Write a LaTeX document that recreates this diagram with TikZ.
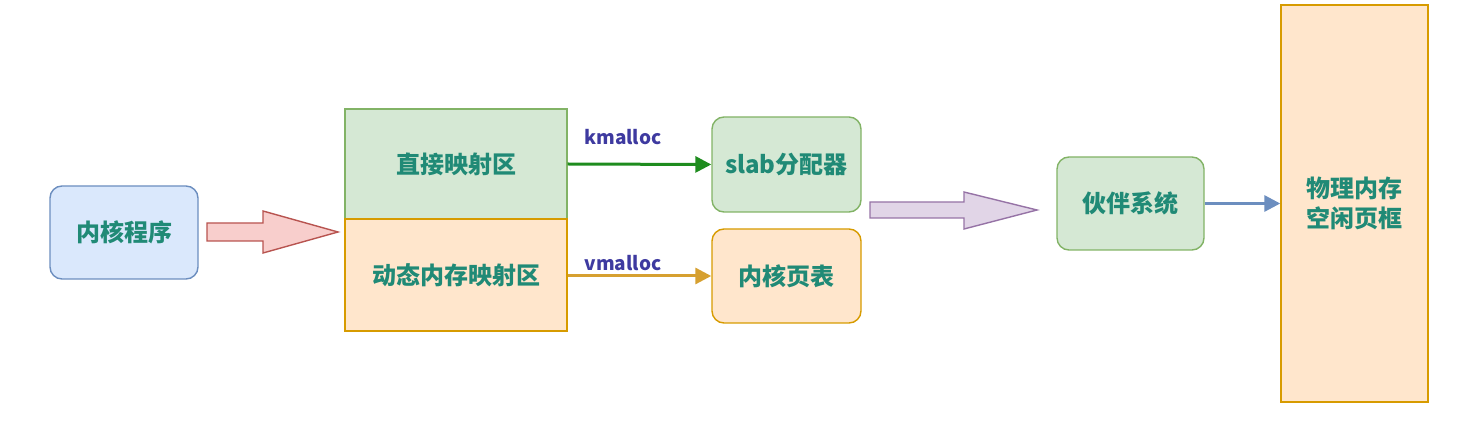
\documentclass[tikz,border=0pt]{standalone}
\usepackage{fontspec}
\setmainfont{Noto Sans CJK SC}
\usetikzlibrary{arrows.meta}
\definecolor{txt}{RGB}{32,138,118}
\definecolor{lbl}{RGB}{62,58,160}
\definecolor{bluef}{HTML}{DAE8FC}\definecolor{blued}{HTML}{6C8EBF}
\definecolor{greenf}{HTML}{D5E8D4}\definecolor{greend}{HTML}{82B366}
\definecolor{orangef}{HTML}{FFE6CC}\definecolor{oranged}{HTML}{D79B00}
\definecolor{pinkf}{HTML}{F8CECC}\definecolor{pinkd}{HTML}{B85450}
\definecolor{purplef}{HTML}{E1D5E7}\definecolor{purpled}{HTML}{9673A6}
\definecolor{garrow}{RGB}{30,140,30}
\definecolor{oarrow}{RGB}{214,160,48}
\tikzset{
  txtstyle/.style={text=txt,font=\fontsize{24}{30}\selectfont\bfseries,align=center},
  box/.style={draw,line width=1.4pt,txtstyle,inner sep=0pt},
  rbox/.style={box,rounded corners=12pt},
  conn/.style={line width=3pt,-{Triangle[length=16pt,width=16pt]}},
  lab/.style={text=lbl,font=\fontsize{19}{21}\selectfont\bfseries},
  barrow/.style={line width=1.4pt,line join=miter}
}
\begin{document}
\begin{tikzpicture}[x=1pt,y=-1pt]
\useasboundingbox (0,0) rectangle (1467,435);
% nodes
\node[rbox,fill=bluef,draw=blued,minimum width=148pt,minimum height=93pt] (prog) at (124,232.5) {内核程序};
\node[box,fill=greenf,draw=greend,minimum width=222pt,minimum height=110pt] (direct) at (456,164) {直接映射区};
\node[box,fill=orangef,draw=oranged,minimum width=222pt,minimum height=112pt] (dyn) at (456,275) {动态内存映射区};
\node[rbox,fill=greenf,draw=greend,minimum width=149pt,minimum height=95pt] (slab) at (786.5,164.5) {slab分配器};
\node[rbox,fill=orangef,draw=oranged,minimum width=149pt,minimum height=94pt] (pt) at (786.5,276) {内核页表};
\node[rbox,fill=greenf,draw=greend,minimum width=147pt,minimum height=93pt] (buddy) at (1130.5,203.5) {伙伴系统};
\node[box,fill=orangef,draw=oranged,minimum width=147pt,minimum height=397pt] (phys) at (1354.5,203.5) {物理内存\\空闲页框};
% block arrows
\draw[barrow,fill=pinkf,draw=pinkd] (207,223) -- (263,223) -- (263,211) -- (338,232) -- (263,253) -- (263,241) -- (207,241) -- cycle;
\draw[barrow,fill=purplef,draw=purpled] (870,202) -- (964,202) -- (964,192) -- (1037,210) -- (964,229) -- (964,218) -- (870,218) -- cycle;
% connectors
\draw[conn,draw=garrow] (direct.east) -- (slab.west);
\draw[conn,draw=oarrow] (dyn.east |- pt.west) -- (pt.west);
\draw[conn,draw=blued] (buddy.east) -- (phys.west);
% labels
\node[lab] (km) at (623,137) {kmalloc};
\node[lab] (vm) at (623,263) {vmalloc};
\end{tikzpicture}
\end{document}
